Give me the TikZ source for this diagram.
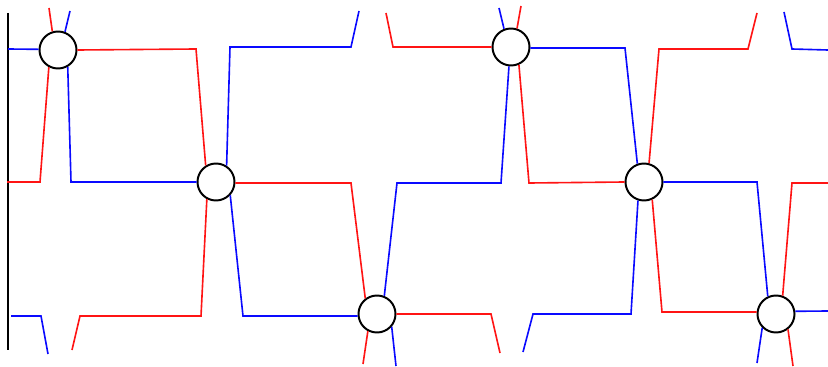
\documentclass[tikz,border=0pt]{standalone}
\usepackage{xcolor}
\usepackage{tikz}
\definecolor{wirered}{RGB}{255,20,20}
\definecolor{wireblue}{RGB}{10,10,255}
\tikzset{
  junc/.style={circle, draw=black, fill=white, minimum size=0.925cm,
    inner sep=0pt, line width=1.4pt},
  redwire/.style={draw=wirered, line width=1.15pt},
  bluewire/.style={draw=wireblue, line width=1.15pt},
  wall/.style={draw=black, line width=1.1pt}
}

\begin{document}
\begin{tikzpicture}[x=0.025cm, y=-0.025cm]
  \useasboundingbox (0,0) rectangle (828,367);

  % Junctions
  \node[junc] (c1) at (58,50) {};
  \node[junc] (c2) at (216,182) {};
  \node[junc] (c3) at (377,314) {};
  \node[junc] (c4) at (511,47) {};
  \node[junc] (c5) at (644,182) {};
  \node[junc] (c6) at (776,314) {};

  % Free ends
  \coordinate (w1) at (8,13);
  \coordinate (w2) at (8,350);
  \coordinate (fr1) at (49,8);
  \coordinate (fr3) at (7,182);
  \coordinate (fr4) at (386,13);
  \coordinate (fr6) at (72,350);
  \coordinate (fr7) at (500,353);
  \coordinate (fr8) at (363,364);
  \coordinate (fr9) at (521,6);
  \coordinate (fr11) at (757,13);
  \coordinate (fr12) at (828,183);
  \coordinate (fr14) at (793,366);
  \coordinate (fb1) at (70,11);
  \coordinate (fb2) at (8,49);
  \coordinate (fb4) at (359,11);
  \coordinate (fb6a) at (11,316);
  \coordinate (fb6b) at (48,354);
  \coordinate (fb8) at (396,366);
  \coordinate (fb9) at (523,352);
  \coordinate (fb10) at (499,8);
  \coordinate (fb12a) at (784,12);
  \coordinate (fb12b) at (828,50);
  \coordinate (fb14) at (828,311);
  \coordinate (fb15) at (757,363);

  % Left wall
  \draw[wall] (w1) -- (w2);

  % Red wires
  \draw[redwire] (fr1) -- (c1.107);
  \draw[redwire] (c1.0) -- (196,49) -- (c2.122);
  \draw[redwire] (c1.242) -- (40,182) -- (fr3);
  \draw[redwire] (fr4) -- (393,47) -- (c4.180);
  \draw[redwire] (c2.-3) -- (351,183) -- (c3.127);
  \draw[redwire] (c2.242) -- (201,316) -- (80,316) -- (fr6);
  \draw[redwire] (c3.0) -- (491,314) -- (fr7);
  \draw[redwire] (c3.242) -- (fr8);
  \draw[redwire] (fr9) -- (c4.72);
  \draw[redwire] (c4.294) -- (529,183) -- (c5.180);
  \draw[redwire] (c5.75) -- (659,49) -- (748,49) -- (fr11);
  \draw[redwire] (fr12) -- (792,183) -- (c6.70);
  \draw[redwire] (c5.295) -- (662,312) -- (c6.174);
  \draw[redwire] (c6.308) -- (fr14);

  % Blue wires
  \draw[bluewire] (fb1) -- (c1.69);
  \draw[bluewire] (fb2) -- (c1.178);
  \draw[bluewire] (c1.300) -- (71,182) -- (c2.180);
  \draw[bluewire] (c2.57) -- (230,47) -- (351,47) -- (fb4);
  \draw[bluewire] (c2.317) -- (243,316) -- (c3.186);
  \draw[bluewire] (fb6a) -- (41,316) -- (fb6b);
  \draw[bluewire] (c3.68) -- (397,183) -- (501,183) -- (c4.264);
  \draw[bluewire] (c3.319) -- (fb8);
  \draw[bluewire] (fb9) -- (533,314) -- (631,314) -- (c5.252);
  \draw[bluewire] (fb10) -- (c4.111);
  \draw[bluewire] (c4.-3) -- (625,48) -- (c5.110);
  \draw[bluewire] (fb12a) -- (792,49) -- (fb12b);
  \draw[bluewire] (c5.0) -- (757,182) -- (c6.115);
  \draw[bluewire] (c6.8) -- (fb14);
  \draw[bluewire] (c6.225) -- (fb15);
\end{tikzpicture}
\end{document}
